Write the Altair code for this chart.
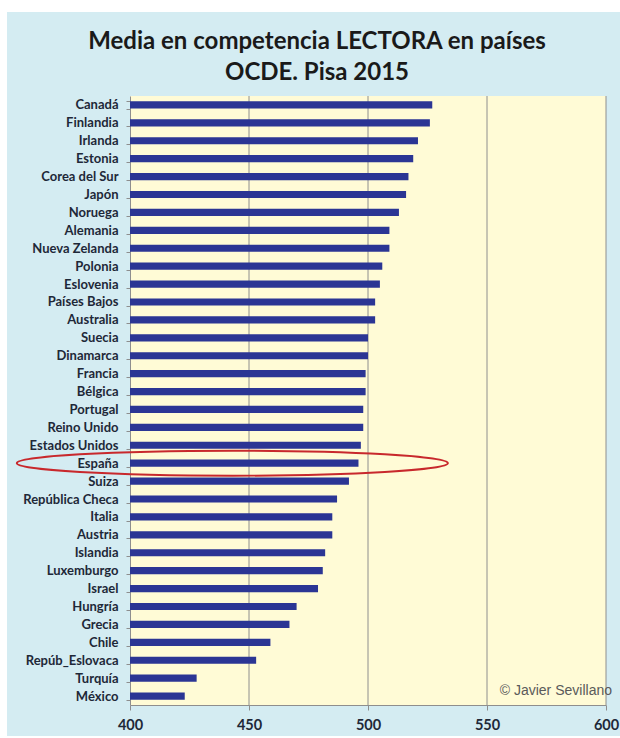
import altair as alt
import pandas as pd

COUNTRIES = ["Canadá", "Finlandia", "Irlanda", "Estonia", "Corea del Sur", "Japón",
             "Noruega", "Alemania", "Nueva Zelanda", "Polonia", "Eslovenia",
             "Países Bajos", "Australia", "Suecia", "Dinamarca", "Francia", "Bélgica",
             "Portugal", "Reino Unido", "Estados Unidos", "España", "Suiza",
             "República Checa", "Italia", "Austria", "Islandia", "Luxemburgo", "Israel",
             "Hungría", "Grecia", "Chile", "Repúb_Eslovaca", "Turquía", "México"]
SCORES = [527, 526, 521, 519, 517, 516, 513, 509, 509, 506, 505, 503, 503, 500, 500,
          499, 499, 498, 498, 497, 496, 492, 487, 485, 485, 482, 481, 479, 470, 467,
          459, 453, 428, 423]
GRID_VALUES = [450, 500, 550, 600]
X_TICKS = [400, 450, 500, 550, 600]
X_MIN, X_MAX = 400, 600
TITLE_LINES = ["Media en competencia LECTORA en países", "OCDE. Pisa 2015"]
HIGHLIGHT = "España"
HIGHLIGHT_CENTER = 443
CREDIT = "© Javier Sevillano"

W, H = 476, 609
PAD_L, PAD_T, PAD_R, PAD_B = 130, 96, 14, 33
BAR_COLOR = "#2B3594"
PANEL = "#D4ECF2"
PLOT_BG = "#FFFBD6"
GRID = "#8E8E8E"

df = pd.DataFrame({"country": COUNTRIES, "score": SCORES})
grid_df = pd.DataFrame({"score": GRID_VALUES})
hl_df = pd.DataFrame({"country": [HIGHLIGHT], "score": [HIGHLIGHT_CENTER]})
credit_df = pd.DataFrame({"score": [X_MAX], "label": [CREDIT]})
one = pd.DataFrame({"k": [0]})

xscale = alt.Scale(domain=[X_MIN, X_MAX], nice=False, zero=False)
yscale = alt.Scale(paddingInner=0.6, paddingOuter=0.3)

xaxis = alt.Axis(title=None, values=X_TICKS, labelFont="Lato",
                 labelFontWeight="bold", labelFontSize=14.5, labelColor="#1E2838",
                 labelPadding=8, tickSize=5, tickColor=GRID, domainColor=GRID,
                 grid=False, labelFlush=False)
yaxis = alt.Axis(title=None, labelFont="Lato", labelFontWeight="bold",
                 labelFontSize=13, labelColor="#1E2838", labelPadding=8,
                 tickBand="extent", tickSize=4, tickColor=GRID,
                 domainColor=GRID, grid=False)

X = alt.X("score:Q", scale=xscale, axis=xaxis)
Y = alt.Y("country:N", sort=COUNTRIES, scale=yscale, axis=yaxis)

# white outer margin around the blue panel (left, top, bottom strips)
m_left = alt.Chart(one).mark_rect(color="white").encode(
    x=alt.value(-PAD_L), x2=alt.value(-PAD_L + 7), y=alt.value(-PAD_T), y2=alt.value(H + PAD_B))
m_top = alt.Chart(one).mark_rect(color="white").encode(
    x=alt.value(-PAD_L), x2=alt.value(W + PAD_R), y=alt.value(-PAD_T), y2=alt.value(-PAD_T + 12))
m_bot = alt.Chart(one).mark_rect(color="white").encode(
    x=alt.value(-PAD_L), x2=alt.value(W + PAD_R), y=alt.value(H + PAD_B - 2), y2=alt.value(H + PAD_B))

grid = alt.Chart(grid_df).mark_rule(color=GRID, strokeWidth=1).encode(
    x=X, y=alt.value(0), y2=alt.value(H)
)

bars = alt.Chart(df).mark_bar(color=BAR_COLOR).encode(
    y=Y, x=X, x2=alt.datum(X_MIN),
)

k = 0.5523
ry = 0.058
path = (f"M -1 0 C -1 {-k*ry:.4f} {-k:.4f} {-ry} 0 {-ry} "
        f"C {k:.4f} {-ry} 1 {-k*ry:.4f} 1 0 "
        f"C 1 {k*ry:.4f} {k:.4f} {ry} 0 {ry} "
        f"C {-k:.4f} {ry} -1 {k*ry:.4f} -1 0 Z")
ellipse = alt.Chart(hl_df).mark_point(shape=path, filled=False, color="#C8282C",
                                      strokeWidth=2, opacity=1).encode(
    x=X, y=Y, size=alt.value(431 * 431),
)

credit = alt.Chart(credit_df).mark_text(font="Liberation Sans", fontSize=14,
                                        color="#5A5A5A", align="right",
                                        baseline="alphabetic", dx=6).encode(
    x=X, y=alt.value(599), text="label:N"
)

chart = alt.layer(m_left, m_top, m_bot, grid, bars, ellipse, credit).properties(
    width=W, height=H,
    autosize=alt.AutoSizeParams(type="none"),
    padding={"left": PAD_L, "top": PAD_T, "right": PAD_R, "bottom": PAD_B},
    title=alt.TitleParams(text=TITLE_LINES, font="Lato", fontSize=24, fontWeight="bold",
                          color="#1A1A1A", anchor="middle", dx=-51, offset=11, dy=PAD_T,
                          lineHeight=31),
    background=PANEL,
).configure_view(strokeWidth=0, fill=PLOT_BG)

chart.save("out.html", embed_options={"renderer": "svg", "actions": False})
